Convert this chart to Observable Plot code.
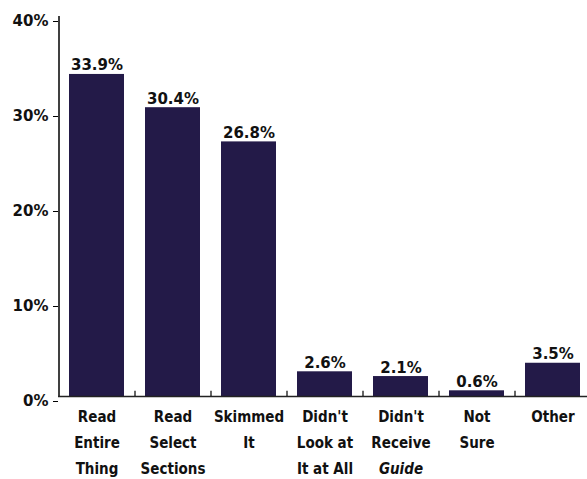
<!DOCTYPE html>
<html>
<head>
<meta charset="utf-8">
<script src="https://cdn.jsdelivr.net/npm/d3@7"></script>
<script src="https://cdn.jsdelivr.net/npm/@observablehq/plot@0.6"></script>
<style>
  html, body { margin: 0; padding: 0; background: #fff; }
  #chart svg { display: block; }
</style>
</head>
<body>
<div id="chart"></div>
<script>
// How readers used the guide (share of respondents, %)
const categories = [
  "Read Entire Thing",
  "Read Select Sections",
  "Skimmed It",
  "Didn't Look at It at All",
  "Didn't Receive Guide",
  "Not Sure",
  "Other"
];
const values = [33.9, 30.4, 26.8, 2.6, 2.1, 0.6, 3.5];
const labelLines = [
  ["Read", "Entire", "Thing"],
  ["Read", "Select", "Sections"],
  ["Skimmed", "It"],
  ["Didn't", "Look at", "It at All"],
  ["Didn't", "Receive", "Guide"],
  ["Not", "Sure"],
  ["Other"]
];
const italicWords = ["Guide"];
const yTicks = [0, 10, 20, 30, 40];

const bars = categories.map((c, i) => ({category: c, value: values[i]}));
const labelRows = categories.flatMap((c, i) =>
  labelLines[i].map((t, j) => ({category: c, line: j, text: t, italic: italicWords.includes(t)}))
);

const barColor = "#231a48";
const numFont = "'DejaVu Sans', sans-serif";
const condFont = "'DejaVu Sans Condensed', 'DejaVu Sans', sans-serif";

// category labels, one text mark per line and style
const labelMarks = [];
for (let j = 0; j < 3; j++) {
  for (const italic of [false, true]) {
    labelMarks.push(Plot.text(labelRows.filter(d => d.line === j && d.italic === italic), {
      x: "category",
      y: 0,
      text: "text",
      dy: 21 + 26 * j,
      lineAnchor: "middle",
      textAnchor: "middle",
      fontSize: 15,
      fontWeight: "bold",
      fontStyle: italic ? "italic" : "normal",
      fontFamily: condFont,
      fontStretch: "condensed",
      fill: "#111"
    }));
  }
}

const chart = Plot.plot({
  width: 587,
  height: 479,
  marginTop: 16,
  marginBottom: 83,
  marginLeft: 58,
  marginRight: -4,
  style: {background: "#fff", overflow: "visible"},
  x: {domain: categories, paddingInner: 0.28, paddingOuter: 0.14, axis: null},
  y: {domain: [0, 40], axis: null},
  marks: [
    Plot.barY(bars, {x: "category", y: "value", fill: barColor}),
    // left axis line
    Plot.ruleX([categories[0]], {y1: 0, y2: 40, dx: -38, stroke: "#000", strokeWidth: 1.5}),
    // baseline
    Plot.ruleY([0], {stroke: "#222", strokeWidth: 1.5}),
    // separators between categories
    Plot.ruleX(categories.slice(0, -1), {y1: 0, y2: 0.55, dx: 38, stroke: "#000", strokeWidth: 1.2}),
    Plot.axisY({
      ticks: yTicks,
      tickFormat: d => `${d}%`,
      label: null,
      tickSize: 5,
      tickPadding: 5,
      dy: 5,
      fontSize: 15,
      fontWeight: "bold",
      fontFamily: numFont,
      stroke: "#000",
      color: "#111"
    }),
    Plot.text(bars, {
      x: "category",
      y: "value",
      text: d => `${d.value.toFixed(1)}%`,
      dy: -4,
      lineAnchor: "bottom",
      fontSize: 15,
      fontWeight: "bold",
      fontFamily: numFont,
      fill: "#111"
    }),
    ...labelMarks
  ]
});

document.getElementById("chart").append(chart);
</script>
</body>
</html>
